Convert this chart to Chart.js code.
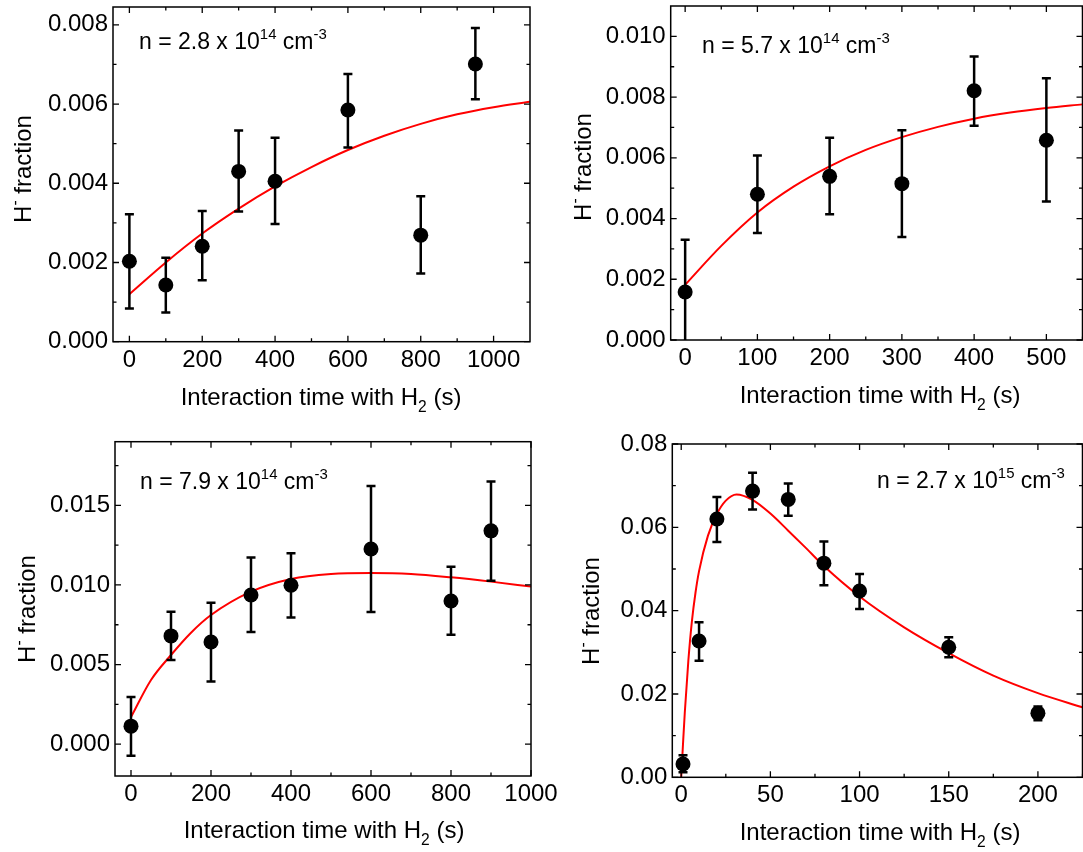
<!DOCTYPE html>
<html>
<head>
<meta charset="utf-8">
<script src="https://cdn.jsdelivr.net/npm/chart.js@4.4.1/dist/chart.umd.min.js"></script>
<style>
html, body { margin: 0; padding: 0; background: #fff; overflow: hidden; width: 1083px; height: 852px; position: relative; }
canvas { position: absolute; }
</style>
</head>
<body>
<canvas id="c1"></canvas>
<canvas id="c2"></canvas>
<canvas id="c3"></canvas>
<canvas id="c4"></canvas>
<script>
// n = 2.8 x 10^14 cm^-3
var timeA = [0, 100, 200, 300, 400, 600, 800, 950];
var fracA = [0.00203, 0.00143, 0.00241, 0.0043, 0.00405, 0.00585, 0.00269, 0.00701];
var hiA   = [0.00322, 0.00212, 0.0033, 0.00533, 0.00515, 0.00676, 0.00367, 0.00792];
var loA   = [0.00084, 0.00074, 0.00155, 0.00329, 0.00297, 0.0049, 0.00172, 0.00612];
var fitTimeA = [0, 100, 200, 300, 400, 500, 600, 700, 800, 900, 1000, 1100];
var fitFracA = [0.0012, 0.002, 0.00273, 0.00336, 0.00392, 0.00441, 0.00484, 0.0052, 0.0055, 0.00574, 0.00592, 0.00606];
var xTicksA = [0, 200, 400, 600, 800, 1000], xMinorA = [100, 300, 500, 700, 900];
var yTicksA = [0, 0.002, 0.004, 0.006, 0.008], yMinorA = [0.001, 0.003, 0.005, 0.007];

// n = 5.7 x 10^14 cm^-3
var timeB = [0, 100, 200, 300, 400, 500];
var fracB = [0.00158, 0.0048, 0.00539, 0.00515, 0.00821, 0.00658];
var hiB   = [0.0033, 0.00608, 0.00666, 0.00691, 0.00934, 0.00862];
var loB   = [-0.00014, 0.00352, 0.00414, 0.00339, 0.00706, 0.00456];
var fitTimeB = [0, 50, 100, 150, 200, 250, 300, 350, 400, 450, 500, 550];
var fitFracB = [0.00182, 0.0031, 0.0042, 0.00505, 0.00572, 0.00626, 0.00668, 0.00702, 0.00729, 0.00749, 0.00764, 0.00776];
var xTicksB = [0, 100, 200, 300, 400, 500], xMinorB = [50, 150, 250, 350, 450, 550];
var yTicksB = [0, 0.002, 0.004, 0.006, 0.008, 0.010], yMinorB = [0.001, 0.003, 0.005, 0.007, 0.009];

// n = 7.9 x 10^14 cm^-3
var timeC = [0, 100, 200, 300, 400, 600, 800, 900];
var fracC = [0.00113, 0.0068, 0.00642, 0.00937, 0.00998, 0.01226, 0.00899, 0.0134];
var hiC   = [0.00296, 0.00831, 0.00889, 0.01172, 0.012, 0.01622, 0.01115, 0.0165];
var loC   = [-0.00073, 0.00529, 0.00394, 0.00704, 0.00795, 0.0083, 0.00688, 0.01027];
var fitTimeC = [0, 50, 100, 150, 200, 300, 400, 500, 600, 700, 800, 900, 1000];
var fitFracC = [0.0017, 0.00403, 0.0056, 0.007, 0.00811, 0.00958, 0.01038, 0.01069, 0.01075, 0.01069, 0.01048, 0.01021, 0.0099];
var xTicksC = [0, 200, 400, 600, 800, 1000], xMinorC = [100, 300, 500, 700, 900];
var yTicksC = [0, 0.005, 0.010, 0.015], yMinorC = [0.0025, 0.0075, 0.0125, 0.0175];

// n = 2.7 x 10^15 cm^-3
var timeD = [1, 10, 20, 40, 60, 80, 100, 150, 200];
var fracD = [0.0032, 0.0327, 0.062, 0.0687, 0.0667, 0.0514, 0.0447, 0.0312, 0.0154];
var hiD   = [0.0053, 0.0372, 0.0673, 0.0731, 0.0705, 0.0566, 0.0488, 0.0336, 0.017];
var loD   = [0.0012, 0.028, 0.0565, 0.0643, 0.0628, 0.0461, 0.0404, 0.0288, 0.0137];
var fitTimeD = [0, 1, 2, 4, 6, 8, 10, 15, 20, 25, 31, 40, 50, 60, 70, 80, 100, 125, 150, 175, 200, 225];
var fitFracD = [0, 0.008, 0.0155, 0.028, 0.0375, 0.0443, 0.0495, 0.058, 0.0632, 0.0664, 0.0679, 0.0666, 0.0633, 0.0592, 0.055, 0.0507, 0.0434, 0.036, 0.0298, 0.0244, 0.0202, 0.0168];
var xTicksD = [0, 50, 100, 150, 200], xMinorD = [25, 75, 125, 175, 225];
var yTicksD = [0, 0.02, 0.04, 0.06, 0.08], yMinorD = [0.01, 0.03, 0.05, 0.07];

var FAMILY = '"Liberation Sans", Arial, sans-serif';
Chart.defaults.font.family = FAMILY;
Chart.defaults.color = '#000';

// box = canvas [left, top, width, height] on the page, area = plot frame [left, top, right, bottom]
var panels = [
	{ id: 'c1', box: [0, -20, 545, 440], area: [113, 7, 530, 341.7], xr: [-45, 1100], yr: [0, 0.00845], dec: 3,
	  t: timeA, f: fracA, hi: hiA, lo: loA, ft: fitTimeA, ff: fitFracA,
	  xt: xTicksA, xm: xMinorA, yt: yTicksA, ym: yMinorA,
	  dens: ['2.8', '14'], nAt: [139, 49], xTitle: [321, 405], yTitle: [31, 169] },
	{ id: 'c2', box: [545, -20, 545, 440], area: [670.7, 6, 1086, 340], xr: [-20, 550], yr: [0, 0.011], dec: 3,
	  t: timeB, f: fracB, hi: hiB, lo: loB, ft: fitTimeB, ff: fitFracB,
	  xt: xTicksB, xm: xMinorB, yt: yTicksB, ym: yMinorB,
	  dens: ['5.7', '14'], nAt: [702, 53], xTitle: [880, 403], yTitle: [591, 167] },
	{ id: 'c3', box: [0, 420, 565, 432], area: [115, 441.7, 531, 776], xr: [-40, 1000], yr: [-0.002, 0.019], dec: 3,
	  t: timeC, f: fracC, hi: hiC, lo: loC, ft: fitTimeC, ff: fitFracC,
	  xt: xTicksC, xm: xMinorC, yt: yTicksC, ym: yMinorC,
	  dens: ['7.9', '14'], nAt: [140, 489], xTitle: [324, 838], yTitle: [35, 609] },
	{ id: 'c4', box: [545, 420, 545, 432], area: [672.3, 444, 1088, 777.3], xr: [-5, 225], yr: [0, 0.08], dec: 2,
	  t: timeD, f: fracD, hi: hiD, lo: loD, ft: fitTimeD, ff: fitFracD,
	  xt: xTicksD, xm: xMinorD, yt: yTicksD, ym: yMinorD,
	  dens: ['2.7', '15'], nAt: [877, 488], xTitle: [880, 840], yTitle: [599, 611] }
];

// draws text runs with super / subscripts on one baseline
function rich(ctx, parts, x, y, size, align){
	var w = 0;
	parts.forEach(function(p){
		ctx.font = (p[1] ? size * 0.65 : size) + 'px ' + FAMILY;
		w += ctx.measureText(p[0]).width;
	});
	var cx = align == 'center' ? x - w / 2 : x;
	parts.forEach(function(p){
		var s = p[1] ? size * 0.65 : size,
			dy = p[1] == 'sup' ? -size * 0.45 : (p[1] == 'sub' ? size * 0.28 : 0);
		ctx.font = s + 'px ' + FAMILY;
		ctx.fillText(p[0], cx, y + dy);
		cx += ctx.measureText(p[0]).width;
	});
}

function makeDeco(p){
	return {
		id: 'deco',
		afterDatasetsDraw: function(chart){
			var ctx = chart.ctx, a = chart.chartArea,
				xs = chart.scales.x, ys = chart.scales.y,
				ox = p.box[0], oy = p.box[1];

			// error bars
			ctx.save();
			ctx.beginPath();
			ctx.rect(a.left, a.top, a.right - a.left, a.bottom - a.top);
			ctx.clip();
			ctx.strokeStyle = '#000';
			ctx.lineWidth = 2.5;
			p.t.forEach(function(t, i){
				var px = xs.getPixelForValue(t),
					top = ys.getPixelForValue(p.hi[i]),
					bot = ys.getPixelForValue(p.lo[i]);
				ctx.beginPath();
				ctx.moveTo(px, top); ctx.lineTo(px, bot);
				ctx.moveTo(px - 4.5, top); ctx.lineTo(px + 4.5, top);
				ctx.moveTo(px - 4.5, bot); ctx.lineTo(px + 4.5, bot);
				ctx.stroke();
			});
			ctx.restore();

			// frame with inward ticks on all four sides
			ctx.save();
			ctx.strokeStyle = '#000';
			ctx.lineWidth = 1.5;
			ctx.strokeRect(a.left, a.top, a.right - a.left, a.bottom - a.top);
			ctx.lineWidth = 1.3;
			ctx.beginPath();
			function xt(v, len){
				var px = xs.getPixelForValue(v);
				ctx.moveTo(px, a.bottom); ctx.lineTo(px, a.bottom - len);
				ctx.moveTo(px, a.top); ctx.lineTo(px, a.top + len);
			}
			function yt(v, len){
				var py = ys.getPixelForValue(v);
				ctx.moveTo(a.left, py); ctx.lineTo(a.left + len, py);
				ctx.moveTo(a.right, py); ctx.lineTo(a.right - len, py);
			}
			p.xt.forEach(function(v){ xt(v, 6); });
			p.xm.forEach(function(v){ xt(v, 3.5); });
			p.yt.forEach(function(v){ yt(v, 6); });
			p.ym.forEach(function(v){ yt(v, 3.5); });
			ctx.stroke();

			// texts
			ctx.fillStyle = '#000';
			ctx.textBaseline = 'alphabetic';
			rich(ctx, [['n = ' + p.dens[0] + ' x 10', ''], [p.dens[1], 'sup'], [' cm', ''], ['-3', 'sup']],
				p.nAt[0] - ox, p.nAt[1] - oy, 23, 'left');
			rich(ctx, [['Interaction time with H', ''], ['2', 'sub'], [' (s)', '']],
				p.xTitle[0] - ox, p.xTitle[1] - oy, 24, 'center');
			ctx.save();
			ctx.translate(p.yTitle[0] - ox, p.yTitle[1] - oy);
			ctx.rotate(-Math.PI / 2);
			rich(ctx, [['H', ''], ['-', 'sup'], [' fraction', '']], 0, 0, 24, 'center');
			ctx.restore();
			ctx.restore();
		}
	};
}

panels.forEach(function(p){
	var cv = document.getElementById(p.id),
		yw = p.area[0] - p.box[0],
		pt = p.area[1] - p.box[1],
		pr = p.box[0] + p.box[2] - p.area[2],
		xh = p.box[1] + p.box[3] - p.area[3];
	cv.width = p.box[2];
	cv.height = p.box[3];
	cv.style.left = p.box[0] + 'px';
	cv.style.top = p.box[1] + 'px';

	var pts = p.t.map(function(t, i){ return { x: t, y: p.f[i] }; }),
		fit = p.ft.map(function(t, i){ return { x: t, y: p.ff[i] }; });

	new Chart(cv.getContext('2d'), {
		type: 'scatter',
		data: {
			datasets: [
				{ data: pts, pointRadius: 7.5, pointHoverRadius: 7.5, backgroundColor: '#000', borderWidth: 0, order: 0 },
				{ type: 'line', data: fit, borderColor: '#ff0000', borderWidth: 2, pointRadius: 0,
				  cubicInterpolationMode: 'monotone', fill: false, order: 1 }
			]
		},
		options: {
			responsive: false,
			animation: false,
			events: [],
			layout: { padding: { left: 0, top: pt, right: pr, bottom: 0 } },
			plugins: { legend: { display: false }, tooltip: { enabled: false } },
			scales: {
				x: {
					type: 'linear', min: p.xr[0], max: p.xr[1],
					grid: { display: false, drawTicks: false }, border: { display: false },
					afterBuildTicks: function(s){ s.ticks = p.xt.map(function(v){ return { value: v }; }); },
					afterFit: function(s){ s.height = xh; },
					ticks: { font: { size: 24 }, color: '#000', padding: 4, maxRotation: 0, autoSkip: false,
						callback: function(v){ return String(v); } }
				},
				y: {
					type: 'linear', min: p.yr[0], max: p.yr[1],
					grid: { display: false, drawTicks: false }, border: { display: false },
					afterBuildTicks: function(s){ s.ticks = p.yt.map(function(v){ return { value: v }; }); },
					afterFit: function(s){ s.width = yw; },
					ticks: { font: { size: 24 }, color: '#000', padding: 5, autoSkip: false,
						callback: function(v){ return v.toFixed(p.dec); } }
				}
			}
		},
		plugins: [makeDeco(p)]
	});
});
</script>
</body>
</html>
